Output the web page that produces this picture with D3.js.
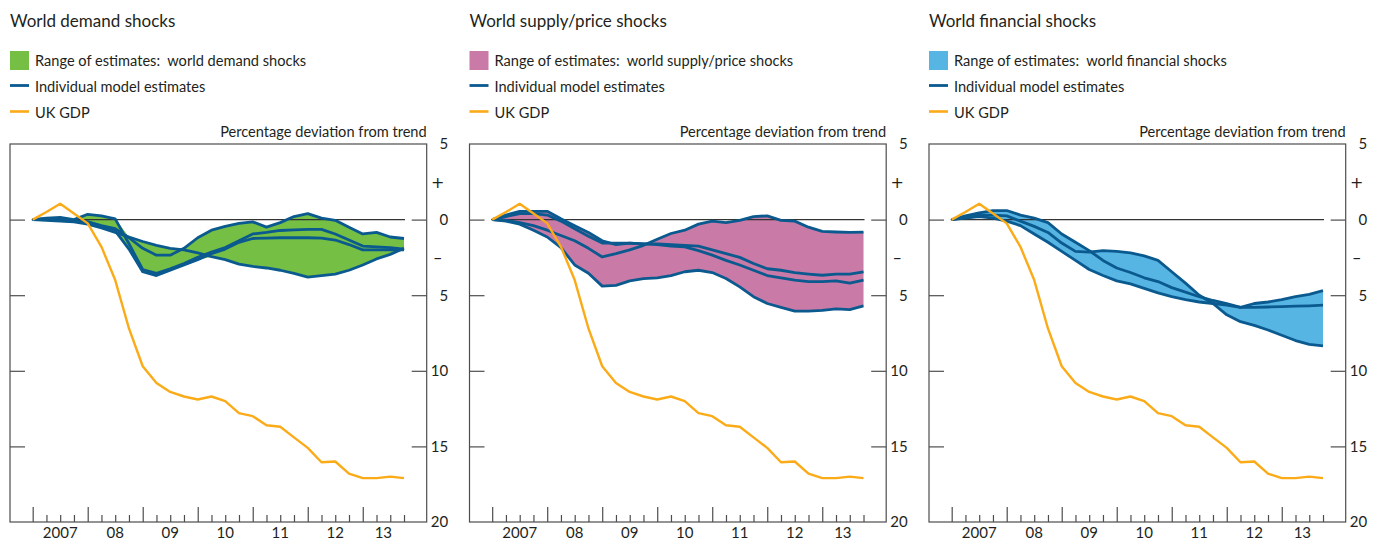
<!DOCTYPE html>
<html>
<head>
<meta charset="utf-8">
<script src="https://cdn.jsdelivr.net/npm/d3@7"></script>
<style>
  body { margin: 0; background: #fff; }
  svg text { font-family: Lato, "Open Sans", sans-serif; fill: #231f20; white-space: pre; }
  svg text.sign { font-family: "DejaVu Sans", sans-serif; }
</style>
</head>
<body>
<div id="chart"></div>
<script>
// quarterly observations, percentage deviation from trend
const quarters = [
  "2007 Q1", "2007 Q2", "2007 Q3", "2007 Q4", "2008 Q1", "2008 Q2", "2008 Q3", "2008 Q4",
  "2009 Q1", "2009 Q2", "2009 Q3", "2009 Q4", "2010 Q1", "2010 Q2", "2010 Q3", "2010 Q4",
  "2011 Q1", "2011 Q2", "2011 Q3", "2011 Q4", "2012 Q1", "2012 Q2", "2012 Q3", "2012 Q4",
  "2013 Q1", "2013 Q2", "2013 Q3", "2013 Q4"
];
const yearLabels = ["2007", "08", "09", "10", "11", "12", "13"];

const ukGdp = [0, 0.5, 1.05, 0.4, -0.25, -1.8, -4.0, -7.2, -9.7, -10.8, -11.4, -11.7, -11.9, -11.7,
  -12.0, -12.8, -13.0, -13.6, -13.7, -14.4, -15.1, -16.05, -16.0, -16.8, -17.1, -17.1, -17.0, -17.1];

// world demand shocks: individual model estimates
const demandModelA = [0, 0.1, 0.15, 0.0, 0.35, 0.25, 0.05, -1.6, -3.3, -3.55, -3.25, -2.9, -2.5, -2.15,
  -1.85, -1.4, -0.95, -0.85, -0.72, -0.68, -0.65, -0.65, -0.95, -1.35, -1.75, -1.8, -1.85, -1.95];
const demandModelB = [0, 0.0, -0.05, -0.1, -0.15, -0.45, -0.75, -1.95, -3.45, -3.7, -3.35, -3.0, -2.65, -2.25,
  -1.95, -1.5, -1.25, -1.22, -1.2, -1.2, -1.2, -1.22, -1.35, -1.65, -2.0, -2.0, -2.0, -2.0];
const demandModelC = [0, 0.05, 0.0, -0.1, -0.15, -0.4, -0.6, -1.2, -1.9, -2.35, -2.35, -1.9, -1.2, -0.7,
  -0.45, -0.25, -0.15, -0.5, -0.2, 0.2, 0.4, 0.1, -0.05, -0.5, -0.95, -0.85, -1.15, -1.25];
const demandModelD = [0, -0.05, -0.1, -0.15, -0.3, -0.55, -0.85, -1.15, -1.45, -1.7, -1.9, -2.0, -2.2, -2.45,
  -2.65, -2.95, -3.1, -3.2, -3.35, -3.55, -3.8, -3.7, -3.6, -3.35, -3.0, -2.6, -2.3, -1.9];

// world supply/price shocks
const supplyModelA = [0, 0.3, 0.55, 0.55, 0.55, 0.05, -0.4, -0.85, -1.4, -1.65, -1.55, -1.6, -1.6, -1.65,
  -1.7, -1.75, -2.0, -2.25, -2.5, -2.9, -3.25, -3.35, -3.5, -3.6, -3.68, -3.6, -3.6, -3.45];
const supplyModelB = [0, 0.2, 0.4, 0.4, 0.3, -0.1, -0.6, -1.1, -1.55, -1.55, -1.55, -1.6, -1.65, -1.75,
  -1.8, -2.05, -2.35, -2.7, -3.0, -3.35, -3.7, -3.85, -4.0, -4.1, -4.1, -4.05, -4.2, -4.0];
const supplyModelC = [0, -0.05, -0.2, -0.4, -0.7, -1.05, -1.4, -1.9, -2.47, -2.25, -2.0, -1.7, -1.3, -0.92,
  -0.7, -0.3, -0.1, -0.2, -0.05, 0.2, 0.25, -0.05, -0.1, -0.5, -0.78, -0.82, -0.85, -0.83];
const supplyModelD = [0, -0.1, -0.3, -0.7, -1.15, -1.85, -3.0, -3.55, -4.4, -4.35, -4.05, -3.9, -3.85, -3.7,
  -3.45, -3.35, -3.5, -3.9, -4.45, -5.1, -5.55, -5.8, -6.05, -6.05, -6.0, -5.9, -5.95, -5.7];

// world financial shocks
const financialModelA = [0, 0.25, 0.45, 0.6, 0.6, 0.3, 0.1, -0.2, -0.95, -1.5, -2.05, -2.7, -3.2, -3.5,
  -3.85, -4.1, -4.5, -4.8, -5.1, -5.35, -5.55, -5.8, -5.55, -5.45, -5.3, -5.1, -4.95, -4.7];
const financialModelB = [0, 0.15, 0.3, 0.3, 0.25, -0.1, -0.45, -0.85, -1.55, -2.1, -2.15, -2.05, -2.1, -2.2,
  -2.4, -2.7, -3.45, -4.2, -5.0, -5.55, -6.3, -6.75, -7.0, -7.3, -7.65, -8.0, -8.25, -8.35];
const financialModelC = [0, 0.1, 0.2, 0.1, -0.1, -0.4, -0.95, -1.5, -2.1, -2.7, -3.3, -3.7, -4.05, -4.25,
  -4.55, -4.85, -5.1, -5.3, -5.45, -5.55, -5.65, -5.8, -5.8, -5.78, -5.75, -5.72, -5.7, -5.66];

const panelTitles = ["World demand shocks", "World supply/price shocks", "World financial shocks"];
const rangeLabels = ["Range of estimates:  world demand shocks", "Range of estimates:  world supply/price shocks",
  "Range of estimates:  world financial shocks"];
const panelModels = [
  [demandModelA, demandModelB, demandModelC, demandModelD],
  [supplyModelA, supplyModelB, supplyModelC, supplyModelD],
  [financialModelA, financialModelB, financialModelC]
];
const rangeColors = ["#74bf44", "#c97aa6", "#57b5e4"];

const yLabelValues = [5, 2.5, 0, -2.5, -5, -10, -15, -20];
const yLabels = ["5", "+", "0", "\u2013", "5", "10", "15", "20"];
const yTickValues = [0, -5, -10, -15];

const MODEL_BLUE = "#0b5a8f";
const GDP_ORANGE = "#fbab18";

const width = 1380, height = 541;
const PANEL_X = [10, 469.5, 929];
const PANEL_W = 416.7, PANEL_H = 378, TOP = 144;

const svg = d3.select("#chart").append("svg")
    .attr("width", width)
    .attr("height", height);

const x = d3.scalePoint().domain(quarters).range([0, PANEL_W]).padding(1.65);
const y = d3.scaleLinear().domain([5, -20]).range([TOP, TOP + PANEL_H]);

const lineFunc = d3.line()
    .x((d, i) => x(quarters[i]))
    .y(d => y(d));

function drawPanel(k) {
    const g = svg.append("g").attr("transform", "translate(" + PANEL_X[k] + ",0)");
    const models = panelModels[k];

    g.append("text").attr("x", 0).attr("y", 26.5).attr("font-size", 17).text(panelTitles[k]);

    //legend
    g.append("rect").attr("x", 0).attr("y", 51).attr("width", 19).attr("height", 19).attr("fill", rangeColors[k]);
    g.append("line").attr("x1", 0).attr("x2", 19).attr("y1", 85.5).attr("y2", 85.5)
        .attr("stroke", MODEL_BLUE).attr("stroke-width", 2.8);
    g.append("line").attr("x1", 0).attr("x2", 19).attr("y1", 111.5).attr("y2", 111.5)
        .attr("stroke", GDP_ORANGE).attr("stroke-width", 2.6);
    [rangeLabels[k], "Individual model estimates", "UK GDP"].forEach((t, j) => {
        g.append("text").attr("x", 25).attr("y", 65.5 + j * 26).attr("font-size", 14.6).text(t);
    });

    g.append("text").attr("x", PANEL_W).attr("y", 136.5).attr("text-anchor", "end")
        .attr("font-size", 14.6).text("Percentage deviation from trend");

    // range of estimates = min/max over the models
    const band = quarters.map((q, i) => [d3.min(models, m => m[i]), d3.max(models, m => m[i])]);
    const area = d3.area()
        .x((d, i) => x(quarters[i]))
        .y0(d => y(d[0]))
        .y1(d => y(d[1]));
    g.append("path").attr("d", area(band)).attr("fill", rangeColors[k]);

    // frame
    g.append("rect").attr("x", 0).attr("y", TOP).attr("width", PANEL_W).attr("height", PANEL_H)
        .attr("fill", "none").attr("stroke", "#4d4d4d").attr("stroke-width", 1.2);

    // zero line
    g.append("line")
        .attr("x1", x(quarters[0]) - 1).attr("x2", x(quarters[quarters.length - 1]) + 1)
        .attr("y1", y(0)).attr("y2", y(0))
        .attr("stroke", "#333").attr("stroke-width", 1.3);

    const axisL = g.append("g").call(d3.axisLeft(y).tickValues(yTickValues).tickSize(-15).tickFormat(""));
    const axisR = g.append("g").attr("transform", "translate(" + PANEL_W + ",0)")
        .call(d3.axisRight(y).tickValues(yTickValues).tickSize(-15).tickFormat(""));
    const axisB = g.append("g").attr("transform", "translate(0," + (TOP + PANEL_H) + ")")
        .call(d3.axisBottom(x).tickSize(-7).tickFormat(""));
    axisB.selectAll(".tick line").filter(d => d.endsWith("Q1")).attr("y2", -15);
    [axisL, axisR, axisB].forEach(a => {
        a.select(".domain").remove();
        a.selectAll(".tick line").attr("stroke", "#4d4d4d").attr("stroke-width", 1.2);
    });

    // right-hand labels
    yLabelValues.forEach((v, j) => {
        const sign = yLabels[j] === "+" || yLabels[j] === "\u2013";
        g.append("text")
            .attr("class", sign ? "sign" : null)
            .attr("x", sign ? PANEL_W + 11 : PANEL_W + 21.5)
            .attr("y", y(v))
            .attr("dy", "0.36em")
            .attr("text-anchor", sign ? "middle" : "end")
            .attr("font-size", sign ? 16 : 15)
            .text(yLabels[j]);
    });

    // year labels, centred on each year's span of quarters
    yearLabels.forEach((lab, j) => {
        const start = j * 4, end = Math.min(j * 4 + 4, quarters.length - 1);
        g.append("text")
            .attr("x", (x(quarters[start]) + x(quarters[end])) / 2)
            .attr("y", 537.5)
            .attr("text-anchor", "middle")
            .attr("font-size", 15)
            .text(lab);
    });

    models.forEach(m => {
        g.append("path").attr("d", lineFunc(m))
            .attr("fill", "none").attr("stroke", MODEL_BLUE)
            .attr("stroke-width", 2.8).attr("stroke-linejoin", "round");
    });

    g.append("path").attr("d", lineFunc(ukGdp))
        .attr("fill", "none").attr("stroke", GDP_ORANGE)
        .attr("stroke-width", 2.4).attr("stroke-linejoin", "round");
}

panelModels.forEach((m, k) => drawPanel(k));
</script>
</body>
</html>
